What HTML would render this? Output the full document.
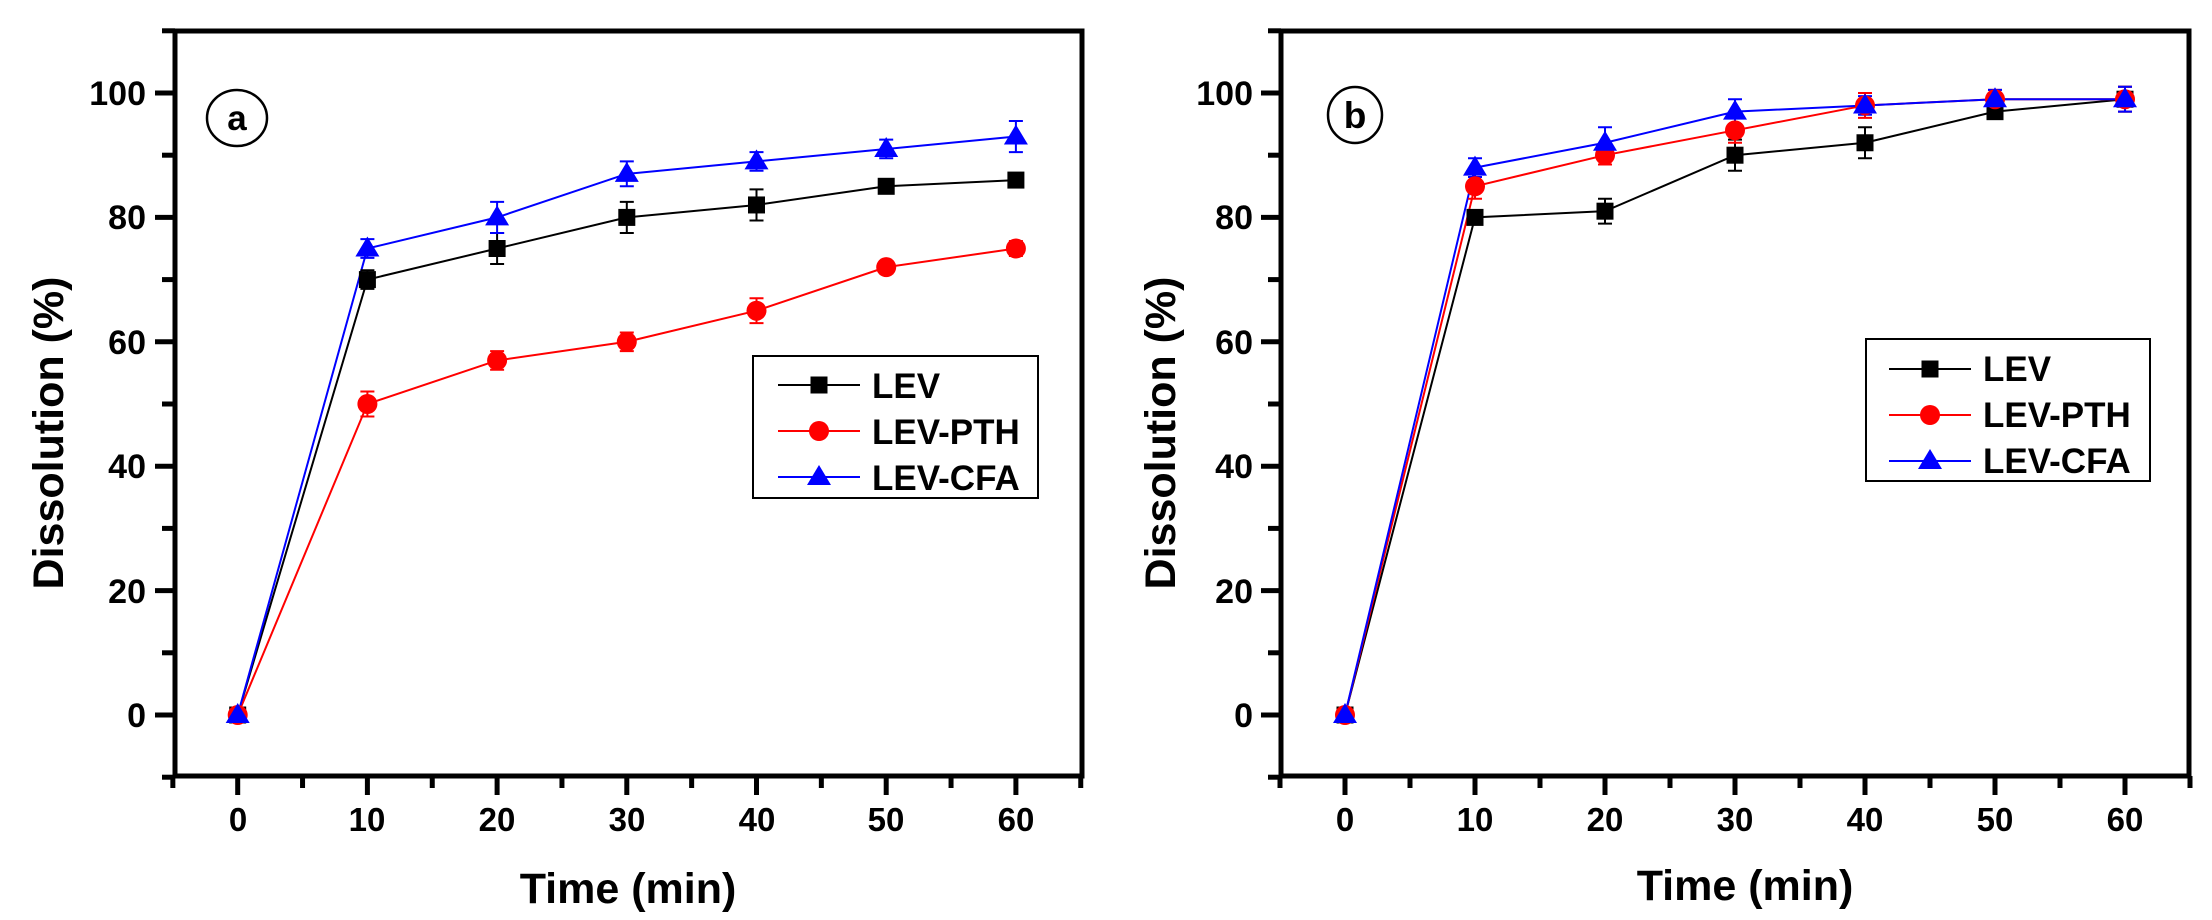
<!DOCTYPE html>
<html><head><meta charset="utf-8"><style>
html,body{margin:0;padding:0;background:#fff;}
svg{display:block;}
text{font-family:"Liberation Sans",Arial,sans-serif;font-weight:bold;fill:#000;}
</style></head><body>
<svg id="s" width="2212" height="920" viewBox="0 0 2212 920" xmlns="http://www.w3.org/2000/svg">
<rect width="2212" height="920" fill="#fff"/>
<g id="pa"></g><g id="pb"></g>
<g font-size="34" text-anchor="end">
<text x="146" y="105">100</text><text x="146" y="229">80</text><text x="146" y="354">60</text><text x="146" y="478">40</text><text x="146" y="603">20</text><text x="146" y="727">0</text>
</g>
<g font-size="33" text-anchor="middle">
<text x="238" y="831">0</text><text x="367" y="831">10</text><text x="497" y="831">20</text><text x="627" y="831">30</text><text x="757" y="831">40</text><text x="886" y="831">50</text><text x="1016" y="831">60</text>
</g>
<text x="628" y="903" font-size="43" text-anchor="middle">Time (min)</text>
<text transform="translate(63,433) rotate(-90)" font-size="43" text-anchor="middle">Dissolution (%)</text>
<ellipse cx="237" cy="118" rx="30" ry="28" fill="none" stroke="#000" stroke-width="2.5"/>
<text x="237" y="130" font-size="35" text-anchor="middle">a</text>
<rect x="753" y="356" width="285" height="142" fill="none" stroke="#000" stroke-width="2"/>
<g font-size="35"><text x="872" y="398">LEV</text><text x="872" y="444">LEV-PTH</text><text x="872" y="490">LEV-CFA</text></g>
<g font-size="34" text-anchor="end">
<text x="1253" y="105">100</text><text x="1253" y="229">80</text><text x="1253" y="354">60</text><text x="1253" y="478">40</text><text x="1253" y="603">20</text><text x="1253" y="727">0</text>
</g>
<g font-size="33" text-anchor="middle">
<text x="1345" y="831">0</text><text x="1475" y="831">10</text><text x="1605" y="831">20</text><text x="1735" y="831">30</text><text x="1865" y="831">40</text><text x="1995" y="831">50</text><text x="2125" y="831">60</text>
</g>
<text x="1745" y="900" font-size="43" text-anchor="middle">Time (min)</text>
<text transform="translate(1175,433) rotate(-90)" font-size="43" text-anchor="middle">Dissolution (%)</text>
<ellipse cx="1355" cy="115" rx="27" ry="28" fill="none" stroke="#000" stroke-width="2.5"/>
<text x="1355" y="128" font-size="37" text-anchor="middle">b</text>
<rect x="1866" y="339" width="284" height="142" fill="none" stroke="#000" stroke-width="2"/>
<g font-size="35"><text x="1983" y="381">LEV</text><text x="1983" y="427">LEV-PTH</text><text x="1983" y="473">LEV-CFA</text></g>
</svg>
<script>
var NS="http://www.w3.org/2000/svg";
function el(p,t,a){var e=document.createElementNS(NS,t);for(var k in a)e.setAttribute(k,a[k]);p.appendChild(e);return e;}
var Y=function(v){return 715-6.22*v;};
function marker(g,type,x,y,c){
 if(type==0)el(g,"rect",{x:x-8.5,y:y-8.5,width:17,height:17,fill:c});
 else if(type==1)el(g,"circle",{cx:x,cy:y,r:10,fill:c});
 else el(g,"polygon",{points:(x-12)+","+(y+8)+" "+(x+12)+","+(y+8)+" "+x+","+(y-12),fill:c});
}
function panel(id,x0,sx,L,R,data,err,leg){
 var g=document.getElementById(id);var X=function(v){return x0+sx*v;};
 for(var v=-10;v<=110;v+=10){var maj=(v%20==0);el(g,"line",{x1:L,x2:L-(maj?20:13),y1:Y(v),y2:Y(v),stroke:"#000","stroke-width":5});}
 for(var v=-5;v<=65;v+=5){var maj=(v%10==0);el(g,"line",{x1:X(v),x2:X(v),y1:776,y2:maj?795:788,stroke:"#000","stroke-width":5});}
 el(g,"rect",{x:L,y:31,width:R-L,height:745,fill:"none",stroke:"#000","stroke-width":5});
 var cols=["#000","#f00","#00f"];var xs=[0,10,20,30,40,50,60];
 for(var s=0;s<3;s++){
  var pts=xs.map(function(x,i){return X(x)+","+Y(data[s][i]);}).join(" ");
  el(g,"polyline",{points:pts,fill:"none",stroke:cols[s],"stroke-width":2});
 }
 for(var s=0;s<3;s++)for(var i=1;i<7;i++){
  var x=X(xs[i]),y=Y(data[s][i]),e=err[s][i]*6.22;
  el(g,"path",{d:"M"+x+" "+(y-e)+"V"+(y+e)+"M"+(x-7)+" "+(y-e)+"H"+(x+7)+"M"+(x-7)+" "+(y+e)+"H"+(x+7),stroke:cols[s],"stroke-width":2,fill:"none"});
 }
 for(var s=0;s<3;s++)for(var i=0;i<7;i++)marker(g,s,X(xs[i]),Y(data[s][i]),cols[s]);
 for(var s=0;s<3;s++){var y=leg[2]+s*46;el(g,"line",{x1:leg[0],x2:leg[1],y1:y,y2:y,stroke:cols[s],"stroke-width":2});}
}
var da=[[0,70,75,80,82,85,86],[0,50,57,60,65,72,75],[0,75,80,87,89,91,93]];
var ea=[[0,1.5,2.5,2.5,2.5,1,1],[0,2,1.5,1.5,2,1,1.2],[0,1.5,2.5,2,1.5,1.5,2.5]];
var db=[[0,80,81,90,92,97,99],[0,85,90,94,98,99,99],[0,88,92,97,98,99,99]];
var eb=[[0,1,2,2.5,2.5,1,2],[0,2,1.5,2,2,1.5,2],[0,1.5,2.5,2,1.5,1.5,2]];
panel("pa",237.7,12.97,175,1082,da,ea,[778,860,385]);
panel("pb",1345,13,1281,2189,db,eb,[1889,1971,369]);
var svg=document.getElementById("s");var lg=el(svg,"g",{});
var cols=["#000","#f00","#00f"];
for(var s=0;s<3;s++){marker(lg,s,819,385+s*46,cols[s]);marker(lg,s,1930,369+s*46,cols[s]);}
</script>
</body></html>
